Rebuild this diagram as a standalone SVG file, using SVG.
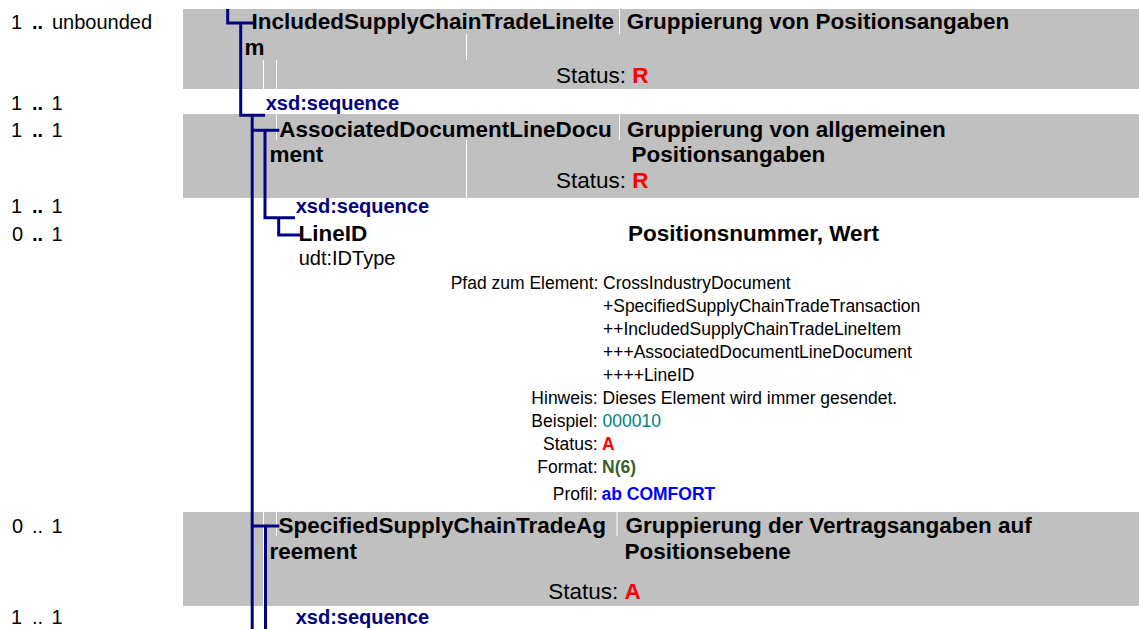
<svg xmlns="http://www.w3.org/2000/svg" width="1139" height="629" viewBox="0 0 1139 629">
<style>
text { font-family: 'Liberation Sans', Arial, Helvetica, sans-serif; fill: #000; }
.card { font-size: 20px; }
.dots { font-weight: bold; }
.hb { font-size: 22.5px; font-weight: bold; }
.hr { font-size: 22.5px; }
.seq { font-size: 20px; font-weight: bold; fill: #000080; }
.typ { font-size: 20px; }
.d { font-size: 17.5px; }
.lab { text-anchor: end; }
.red { fill: #FF0000; font-weight: bold; }
.band { fill: #C0C0C0; }
.wl { stroke: #FFFFFF; stroke-width: 1; fill: none; }
.conn { stroke: #000080; stroke-width: 3; fill: none; stroke-linejoin: miter; stroke-linecap: butt; }
</style>
<rect width="1139" height="629" fill="#FFFFFF"/>

<g id="node-IncludedSupplyChainTradeLineItem">
  <rect class="band" x="183" y="9" width="956" height="80"/>
  <path class="wl" d="M619.5 9V34M466.5 34V60M263.5 60V89M276.5 60V89"/>
  <text class="card" y="29"><tspan x="11">1</tspan><tspan class="dots" x="32">..</tspan><tspan x="52">unbounded</tspan></text>
  <text class="hb" x="251.5" y="29">IncludedSupplyChainTradeLineIte</text>
  <text class="hb" x="244.6" y="55">m</text>
  <text class="hb" x="626.7" y="29">Gruppierung von Positionsangaben</text>
  <text class="hr" x="556" y="83">Status: <tspan class="red">R</tspan></text>
</g>

<g id="node-sequence-1">
  <text class="card" y="110"><tspan x="11">1</tspan><tspan class="dots" x="32">..</tspan><tspan x="51.5">1</tspan></text>
  <text class="seq" x="265.7" y="110">xsd:sequence</text>
</g>

<g id="node-AssociatedDocumentLineDocument">
  <rect class="band" x="183" y="114" width="956" height="84"/>
  <path class="wl" d="M276.5 114V140M619.5 114V140M466.5 140V198"/>
  <text class="card" y="137"><tspan x="11">1</tspan><tspan class="dots" x="32">..</tspan><tspan x="51.5">1</tspan></text>
  <text class="hb" x="279.3" y="137">AssociatedDocumentLineDocu</text>
  <text class="hb" x="269.6" y="161.5">ment</text>
  <text class="hb" x="627" y="137">Gruppierung von allgemeinen</text>
  <text class="hb" x="631.5" y="161.5">Positionsangaben</text>
  <text class="hr" x="556" y="188">Status: <tspan class="red">R</tspan></text>
</g>

<g id="node-sequence-2">
  <text class="card" y="213"><tspan x="11">1</tspan><tspan class="dots" x="32">..</tspan><tspan x="51.5">1</tspan></text>
  <text class="seq" x="295.7" y="213">xsd:sequence</text>
</g>

<g id="node-LineID">
  <text class="card" y="241"><tspan x="12">0</tspan><tspan class="dots" x="32">..</tspan><tspan x="51.5">1</tspan></text>
  <text class="hb" x="298.5" y="240.5">LineID</text>
  <text class="typ" x="298.7" y="264.5">udt:IDType</text>
  <text class="hb" x="628" y="240.5">Positionsnummer, Wert</text>
  <text class="d lab" x="598.5" y="289">Pfad zum Element:</text>
  <text class="d" x="603" y="289">CrossIndustryDocument</text>
  <text class="d" x="603" y="312">+SpecifiedSupplyChainTradeTransaction</text>
  <text class="d" x="603" y="335">++IncludedSupplyChainTradeLineItem</text>
  <text class="d" x="603" y="358">+++AssociatedDocumentLineDocument</text>
  <text class="d" x="603" y="381">++++LineID</text>
  <text class="d lab" x="597.5" y="403.5">Hinweis:</text>
  <text class="d" x="602.5" y="403.5">Dieses Element wird immer gesendet.</text>
  <text class="d lab" x="597.5" y="426.5">Beispiel:</text>
  <text class="d" x="602.5" y="426.5" style="fill:#008080">000010</text>
  <text class="d lab" x="597.5" y="449.5">Status:</text>
  <text class="d red" x="602" y="449.5">A</text>
  <text class="d lab" x="597.5" y="472.5">Format:</text>
  <text class="d" x="602" y="472.5" style="fill:#3A5F2A;font-weight:bold">N(6)</text>
  <text class="d lab" x="597.5" y="500">Profil:</text>
  <text class="d" x="601.5" y="500" style="fill:#0000FF;font-weight:bold">ab COMFORT</text>
</g>

<g id="node-SpecifiedSupplyChainTradeAgreement">
  <rect class="band" x="183" y="512" width="956" height="94"/>
  <path class="wl" d="M263.5 512V606M276.5 512V536M617 512V536"/>
  <text class="card" y="533"><tspan x="12">0</tspan><tspan x="32">..</tspan><tspan x="51.5">1</tspan></text>
  <text class="hb" x="278.4" y="533">SpecifiedSupplyChainTradeAg</text>
  <text class="hb" x="269.5" y="558.5">reement</text>
  <text class="hb" x="625.5" y="533">Gruppierung der Vertragsangaben auf</text>
  <text class="hb" x="624.5" y="558.5">Positionsebene</text>
  <text class="hr" x="548.3" y="598.5">Status: <tspan class="red">A</tspan></text>
</g>

<g id="node-sequence-3">
  <text class="card" y="623.5"><tspan x="11">1</tspan><tspan x="32">..</tspan><tspan x="51.5">1</tspan></text>
  <text class="seq" x="295.7" y="623.5">xsd:sequence</text>
</g>

<g id="connectors">
  <path class="conn" d="M227.7 9V23H253"/>
  <path class="conn" d="M240.7 23V115.3H265"/>
  <path class="conn" d="M252.2 115.3V629"/>
  <path class="conn" d="M252.2 130.3H279.3"/>
  <path class="conn" d="M265 130.3V217.7H295"/>
  <path class="conn" d="M278.7 217.7V235H300"/>
  <path class="conn" d="M252.2 526H279.3"/>
  <path class="conn" d="M265.5 526V629"/>
</g>
</svg>
